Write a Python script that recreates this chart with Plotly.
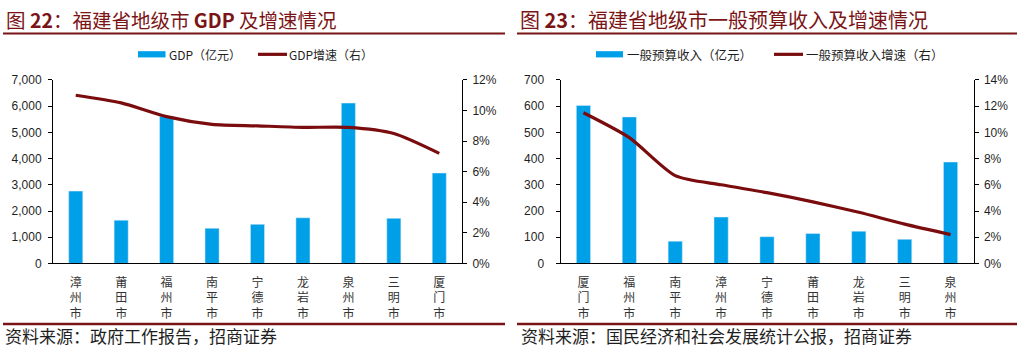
import plotly.graph_objects as go

# ---- data ----
cities_gdp = ["漳州市", "莆田市", "福州市", "南平市", "宁德市", "龙岩市", "泉州市", "三明市", "厦门市"]
gdp_values = [2760, 1650, 5620, 1340, 1490, 1740, 6120, 1720, 3450]          # 亿元
gdp_growth = [0.110, 0.105, 0.096, 0.091, 0.090, 0.089, 0.089, 0.085, 0.072]  # 增速

cities_rev = ["厦门市", "福州市", "南平市", "漳州市", "宁德市", "莆田市", "龙岩市", "三明市", "泉州市"]
rev_values = [603, 559, 85, 177, 102, 114, 123, 92, 387]                      # 亿元
rev_growth = [0.115, 0.096, 0.067, 0.060, 0.054, 0.047, 0.039, 0.030, 0.022]  # 增速

title_left = "图 <b>22</b>：福建省地级市 <b>GDP</b> 及增速情况"
title_right = "图 <b>23</b>：福建省地级市一般预算收入及增速情况"
legend_left = ["GDP（亿元）", "GDP增速（右）"]
legend_right = ["一般预算收入（亿元）", "一般预算收入增速（右）"]
source_left = "资料来源：政府工作报告，招商证券"
source_right = "资料来源：国民经济和社会发展统计公报，招商证券"

# ---- style ----
W, H = 1020, 353
BAR = "#00A0E9"
LINE = "#7A0C0E"
RED = "#7B1416"
TXT = "#1f1f1f"
CJK = "Noto Sans CJK SC"
NUM = "Liberation Sans, Arial, sans-serif"


def px(x):
    return x / W


def py(y):
    return 1 - y / H


def vert(name):
    return "<br>".join(list(name))


ydom = [py(267), py(76)]
fig = go.Figure()

fig.add_trace(go.Bar(x=cities_gdp, y=gdp_values, marker_color=BAR, xaxis="x", yaxis="y",
                     showlegend=False, width=0.31))
fig.add_trace(go.Scatter(x=cities_gdp, y=gdp_growth, mode="lines", xaxis="x", yaxis="y2",
                         line=dict(color=LINE, width=3.2, shape="spline", smoothing=0.7),
                         showlegend=False))
fig.add_trace(go.Bar(x=cities_rev, y=rev_values, marker_color=BAR, xaxis="x2", yaxis="y3",
                     showlegend=False, width=0.31))
fig.add_trace(go.Scatter(x=cities_rev, y=rev_growth, mode="lines", xaxis="x2", yaxis="y4",
                         line=dict(color=LINE, width=3.2, shape="spline", smoothing=0.7),
                         showlegend=False))

xcommon = dict(showline=True, linecolor="#000", linewidth=1, ticks="", showgrid=False,
               tickfont=dict(family=CJK, size=12, color="#333"), fixedrange=True,
               ticklabelstandoff=8)
ycommon = dict(showline=True, linecolor="#000", linewidth=1, ticks="outside", ticklen=4,
               tickcolor="#000", showgrid=False, zeroline=False,
               tickfont=dict(family=NUM, size=12, color=TXT))

fig.update_layout(
    width=W, height=H, margin=dict(l=0, r=0, t=0, b=0),
    paper_bgcolor="white", plot_bgcolor="white", bargap=0.69,
    xaxis=dict(domain=[px(53), px(462)], anchor="y", tickvals=cities_gdp,
               ticktext=[vert(c) for c in cities_gdp], **xcommon),
    yaxis=dict(domain=ydom, anchor="x", range=[0, 7000], dtick=1000, tickformat=",d",
               ticklabelstandoff=4, **ycommon),
    yaxis2=dict(overlaying="y", anchor="x", side="right", range=[0, 0.12], dtick=0.02,
                tickformat=".0%", ticklabelstandoff=3, **ycommon),
    xaxis2=dict(domain=[px(560.5), px(973.5)], anchor="y3", tickvals=cities_rev,
                ticktext=[vert(c) for c in cities_rev], **xcommon),
    yaxis3=dict(domain=ydom, anchor="x2", range=[0, 700], dtick=100,
                ticklabelstandoff=9, **ycommon),
    yaxis4=dict(overlaying="y3", anchor="x2", side="right", range=[0, 0.14], dtick=0.02,
                tickformat=".0%", ticklabelstandoff=3, **ycommon),
)

shapes = []
annotations = []

# rules under titles and above sources
for x0, x1 in [(3, 505), (517, 1017)]:
    shapes.append(dict(type="line", xref="paper", yref="paper", x0=px(x0), x1=px(x1),
                       y0=py(27.5), y1=py(27.5), line=dict(color=RED, width=2)))
    shapes.append(dict(type="line", xref="paper", yref="paper", x0=px(x0), x1=px(x1),
                       y0=py(330), y1=py(330), line=dict(color=RED, width=2.5)))

# titles
for x, t, fs in [(4, title_left, 19.5), (518, title_right, 20)]:
    annotations.append(dict(text=t, xref="paper", yref="paper", x=px(x), y=py(13.5),
                            xanchor="left", yanchor="middle", showarrow=False,
                            font=dict(family=CJK, size=fs, color=RED)))
# sources
for x, t in [(3, source_left), (519, source_right)]:
    annotations.append(dict(text=t, xref="paper", yref="paper", x=px(x), y=py(342),
                            xanchor="left", yanchor="middle", showarrow=False,
                            font=dict(family=CJK, size=17, color=TXT)))

# legends
def legend(bx0, bx1, t1x, lx0, lx1, t2x, labels, fs):
    shapes.append(dict(type="rect", xref="paper", yref="paper", x0=px(bx0), x1=px(bx1),
                       y0=py(52.5), y1=py(46), fillcolor=BAR, line=dict(width=0)))
    shapes.append(dict(type="line", xref="paper", yref="paper", x0=px(lx0), x1=px(lx1),
                       y0=py(49.3), y1=py(49.3), line=dict(color=LINE, width=3.2)))
    for x, t in [(t1x, labels[0]), (t2x, labels[1])]:
        annotations.append(dict(text=t, xref="paper", yref="paper", x=px(x), y=py(49.5),
                                xanchor="left", yanchor="middle", showarrow=False,
                                font=dict(family=CJK, size=fs, color=TXT)))

legend(138, 165.5, 167, 258, 287, 287, legend_left, 12)
legend(596, 623, 625, 774, 803, 804, legend_right, 12.5)

fig.update_layout(shapes=shapes, annotations=annotations)
fig.write_html("out.html")
